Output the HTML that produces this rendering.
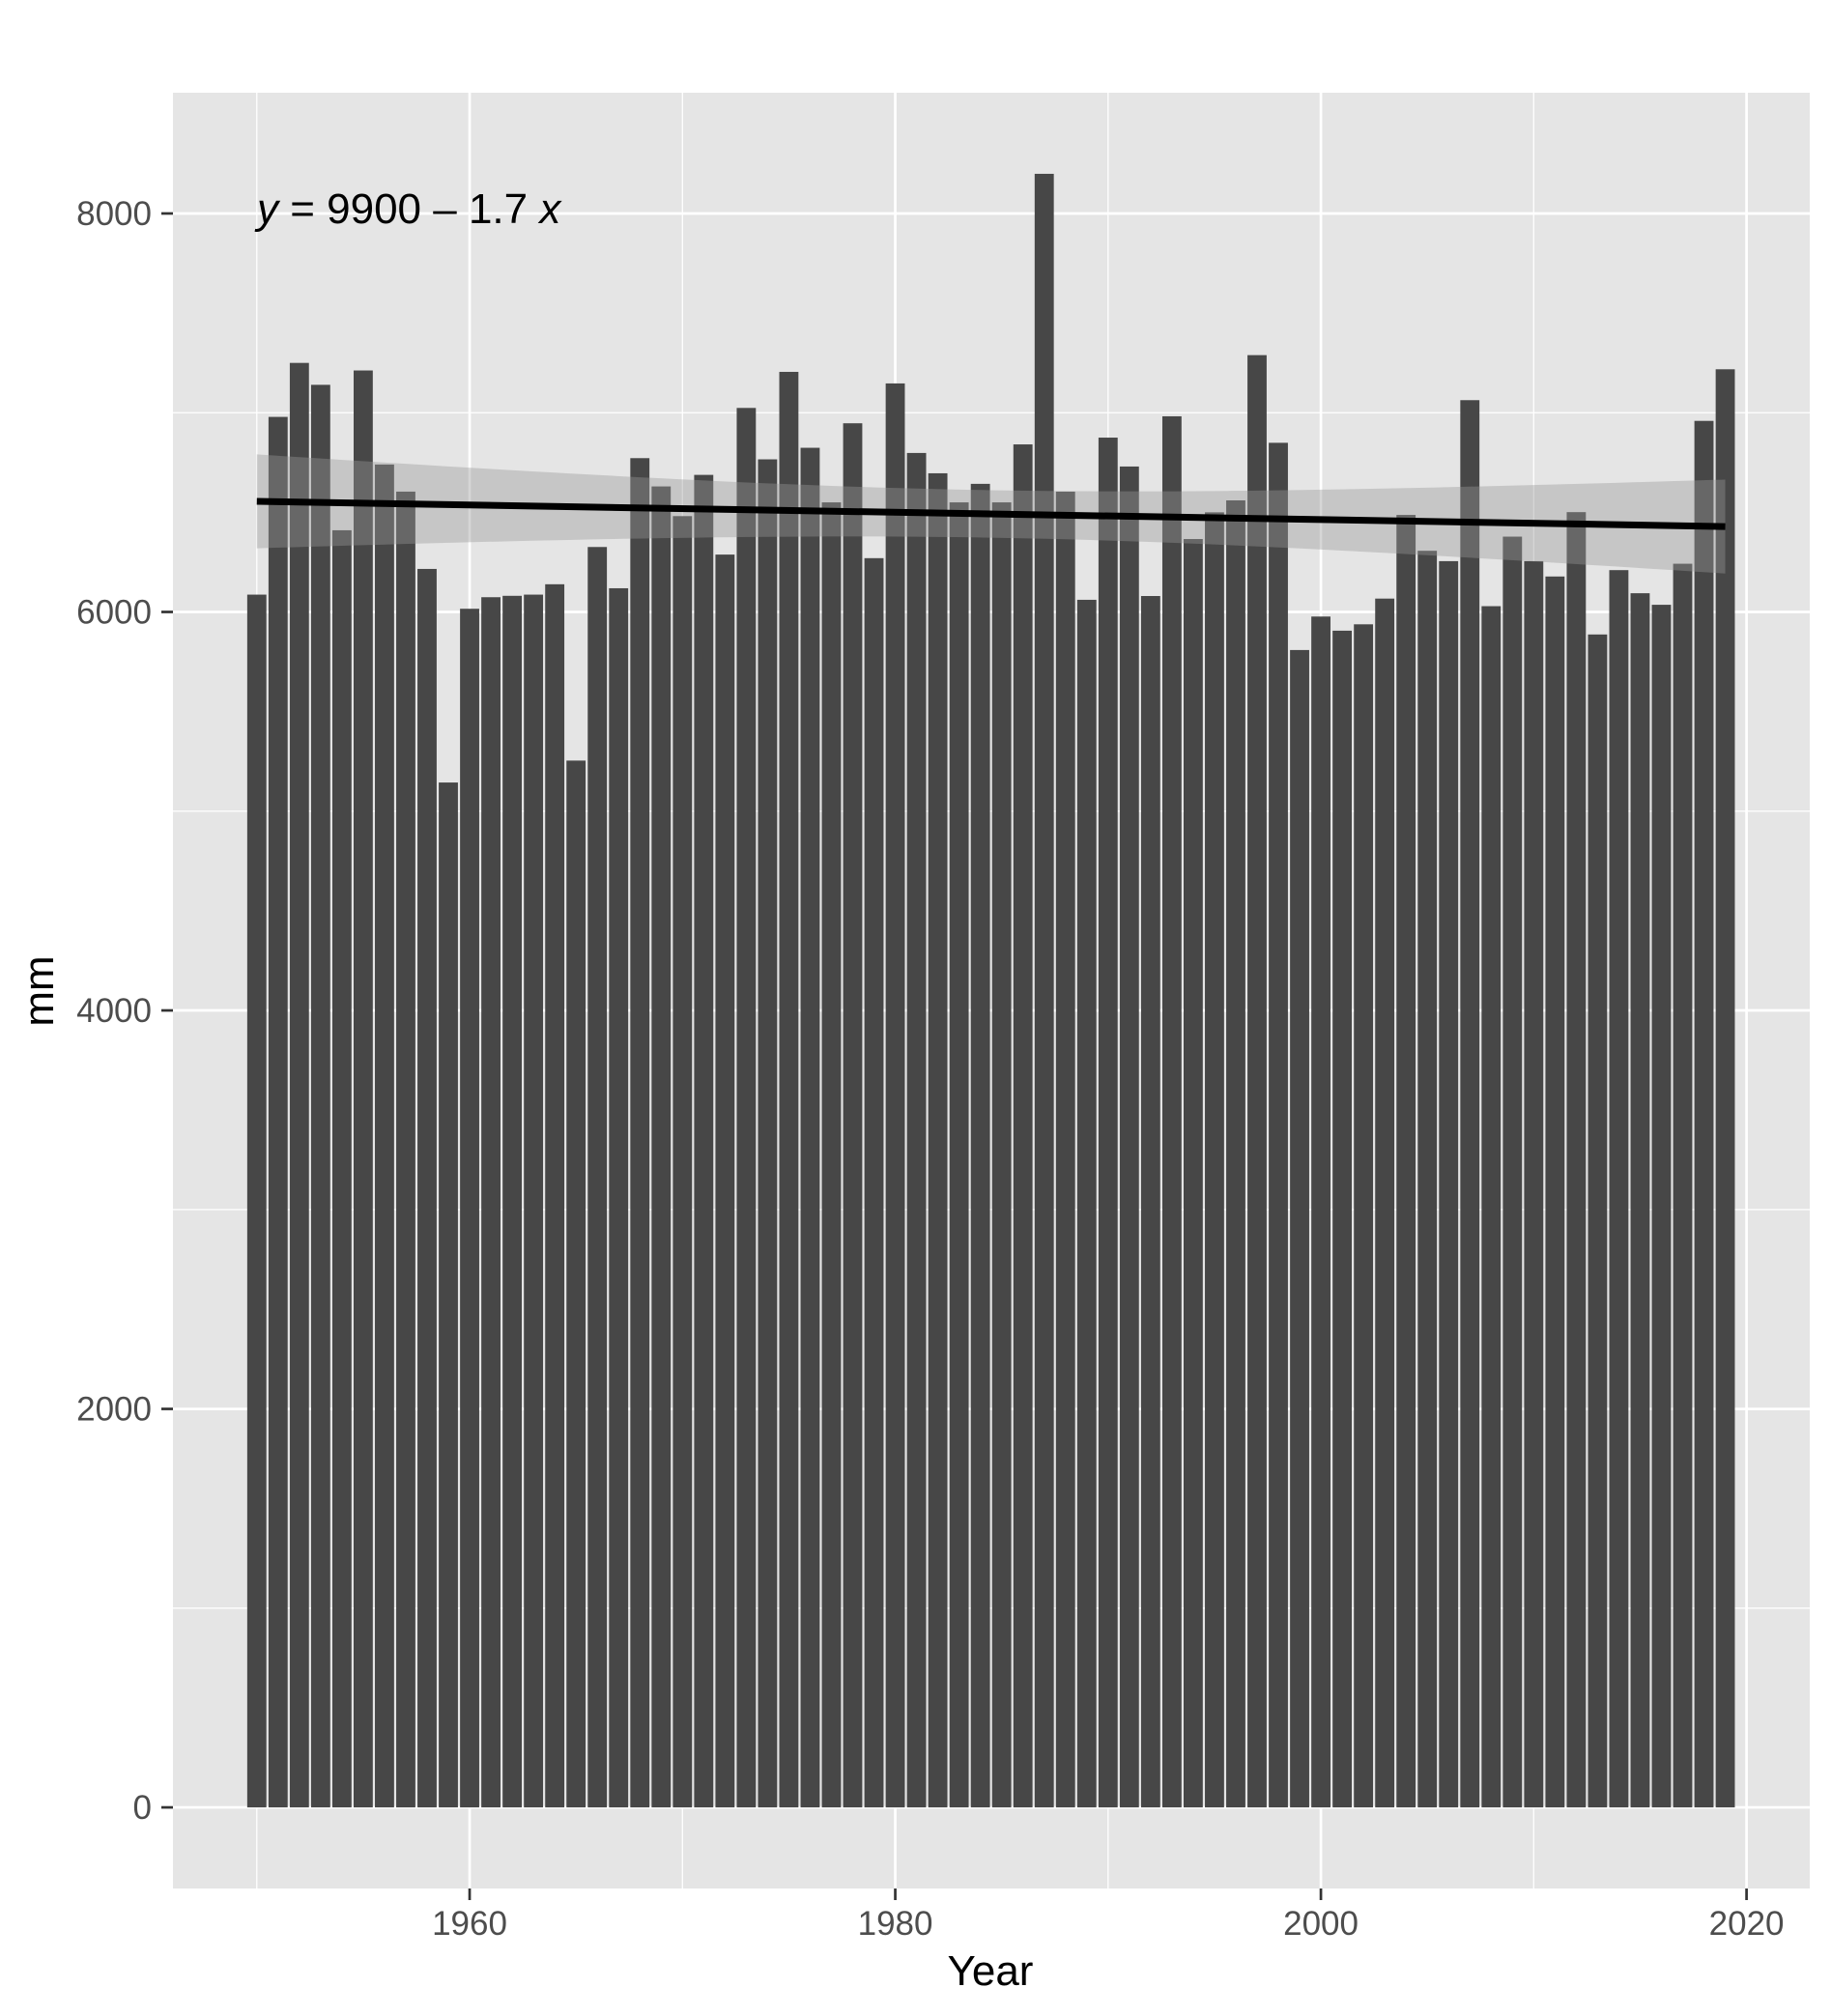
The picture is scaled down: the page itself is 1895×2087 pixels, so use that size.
<!DOCTYPE html>
<html><head><meta charset="utf-8"><style>
html,body{margin:0;padding:0;background:#fff;}
svg{display:block;font-family:"Liberation Sans",Arial,sans-serif;}
</style></head><body>
<svg id="chart" width="1895" height="2087" viewBox="0 0 1895 2087" xmlns="http://www.w3.org/2000/svg">
<rect x="0" y="0" width="1895" height="2087" fill="#fff"/>
<g id="panel"></g>
<text x="266" y="231" font-size="44" fill="#000"><tspan font-style="italic">y</tspan> = 9900 – 1.7 <tspan font-style="italic">x</tspan></text>
<text x="1025" y="2055" font-size="44" text-anchor="middle" fill="#000">Year</text>
<text transform="translate(55,1026) rotate(-90)" font-size="44" text-anchor="middle" fill="#000">mm</text>
</svg>
<script>
const years = [];
for (let y = 1950; y <= 2019; y++) years.push(y);
const values = [6087,6979,7250,7140,6410,7212,6740,6604,6216,5144,
6016,6074,6081,6087,6139,5254,6326,6119,6772,6630,
6481,6688,6288,7024,6766,7205,6824,6550,6947,6270,
7147,6798,6696,6550,6643,6550,6841,8199,6604,6061,
6875,6730,6080,6982,6366,6500,6560,7289,6849,5809,
5977,5906,5938,6067,6487,6307,6255,7063,6029,6378,
6255,6178,6501,5887,6210,6094,6036,6242,6959,7218];
const yTicks = [0,2000,4000,6000,8000];
const yMinor = [1000,3000,5000,7000];
const xTicks = [1960,1980,2000,2020];
const xMinor = [1950,1970,1990,2010];

const PL=179, PR=1873, PT=96, PB=1955;
const X0=1946.06, X1=2022.97, Y0=-407, Y1=8606;
const sx = v => PL + (v - X0) / (X1 - X0) * (PR - PL);
const sy = v => PB - (v - Y0) / (Y1 - Y0) * (PB - PT);
const NS = "http://www.w3.org/2000/svg";
const svg = document.getElementById('chart');
const panel = document.getElementById('panel');
function mk(tag, attrs, parent){
  const e = document.createElementNS(NS, tag);
  for (const k in attrs) e.setAttribute(k, attrs[k]);
  (parent||panel).appendChild(e);
  return e;
}
let e = mk('rect',{x:PL,y:PT,width:PR-PL,height:PB-PT,fill:'#e5e5e5'});


yMinor.forEach(v=>{
  const l = mk('line',{x1:PL,x2:PR,y1:sy(v),y2:sy(v),stroke:'#fff','stroke-width':1.3});
  
  
});
xMinor.forEach(v=>{
  const l = mk('line',{x1:sx(v),x2:sx(v),y1:PT,y2:PB,stroke:'#fff','stroke-width':1.3});
  
  
});
yTicks.forEach(v=>{
  const l = mk('line',{x1:PL,x2:PR,y1:sy(v),y2:sy(v),stroke:'#fff','stroke-width':2.7});
  
  
  const t = mk('line',{x1:167,x2:PL,y1:sy(v),y2:sy(v),stroke:'#333','stroke-width':2.7},svg);
  
  
  const tx = mk('text',{x:157,y:sy(v)+12,'font-size':35,'text-anchor':'end',fill:'#4d4d4d'},svg);
  tx.textContent = v;
  
  
});
xTicks.forEach(v=>{
  const l = mk('line',{x1:sx(v),x2:sx(v),y1:PT,y2:PB,stroke:'#fff','stroke-width':2.7});
  
  
  const t = mk('line',{x1:sx(v),x2:sx(v),y1:PB,y2:PB+12,stroke:'#333','stroke-width':2.7},svg);
  
  
  const tx = mk('text',{x:sx(v),y:2003,'font-size':35,'text-anchor':'middle',fill:'#4d4d4d'},svg);
  tx.textContent = v;
  
  
});
const bw = 0.9*(sx(1)-sx(0));
years.forEach((yr,i)=>{
  const b = mk('rect',{x:sx(yr)-bw/2,y:sy(values[i]),width:bw,height:sy(0)-sy(values[i]),fill:'#474747'});
  
  
});
const n = years.length;
const xm = years.reduce((a,b)=>a+b,0)/n, ym = values.reduce((a,b)=>a+b,0)/n;
let sxx=0, sxy=0;
years.forEach((x,i)=>{sxx+=(x-xm)**2; sxy+=(x-xm)*(values[i]-ym);});
const slope = sxy/sxx, icpt = ym - slope*xm;
let sse=0; years.forEach((x,i)=>{sse+=(values[i]-icpt-slope*x)**2;});
const s = Math.sqrt(sse/(n-2)), tq = 1.995;
const up=[], lo=[];
for (let k=0;k<=80;k++){
  const x = years[0] + (years[n-1]-years[0])*k/80;
  const f = icpt + slope*x, se = s*Math.sqrt(1/n + (x-xm)**2/sxx);
  up.push([sx(x),sy(f+tq*se)]); lo.push([sx(x),sy(f-tq*se)]);
}
const pts = up.concat(lo.reverse()).map(p=>p.join(',')).join(' ');
const rb = mk('polygon',{points:pts,fill:'#999999','fill-opacity':0.4});


const ln = mk('line',{x1:sx(years[0]),y1:sy(icpt+slope*years[0]),x2:sx(years[n-1]),y2:sy(icpt+slope*years[n-1]),stroke:'#000','stroke-width':7});


</script>
</body></html>
